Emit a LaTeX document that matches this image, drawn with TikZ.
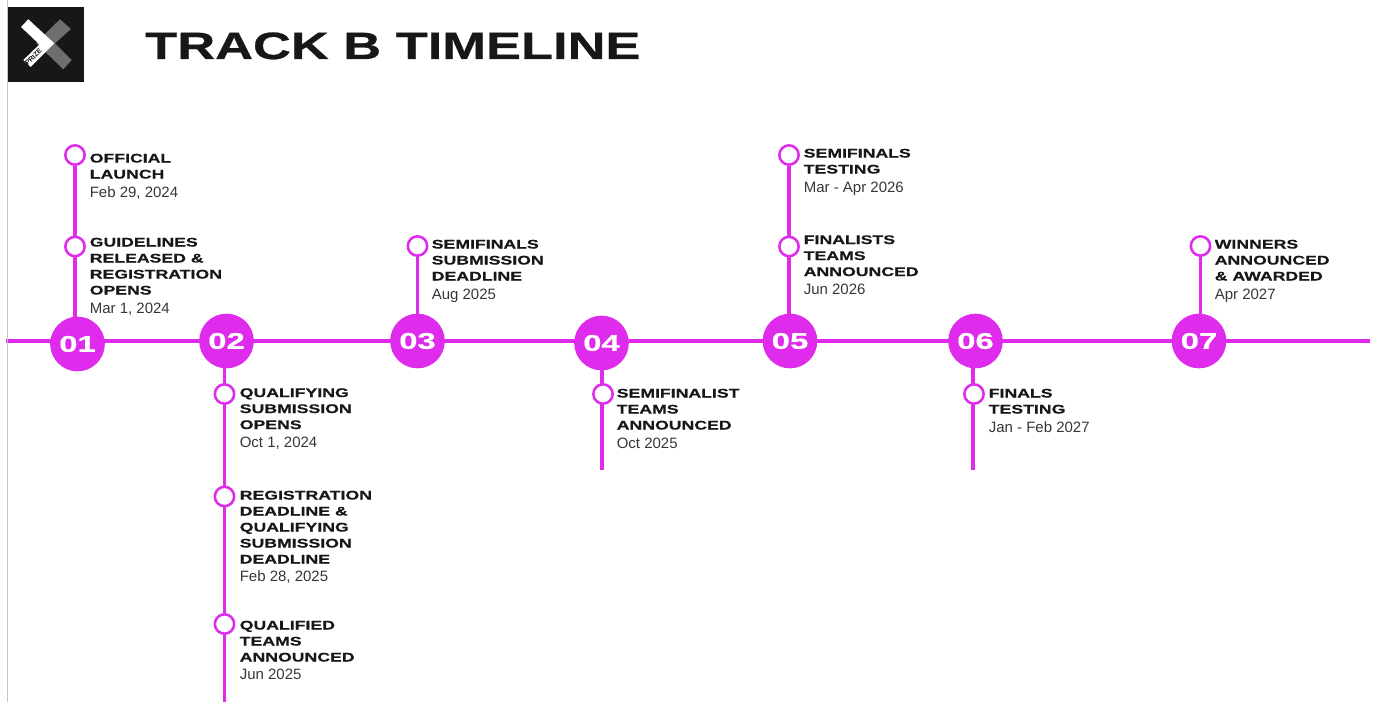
\documentclass[tikz,border=0pt]{standalone}
\usepackage{fontspec}
\usetikzlibrary{backgrounds}
\setmainfont{Liberation Sans}
\newfontfamily\widefont[FakeStretch=1.41,FakeBold=0.4]{Liberation Sans Bold}
\newfontfamily\titlefont[FakeStretch=1.38,FakeBold=0.7]{Liberation Sans Bold}
\newfontfamily\numfont[FakeStretch=1.45,FakeBold=0.6]{Liberation Sans Bold}
\definecolor{mag}{HTML}{DF2BEC}
\definecolor{ink}{HTML}{171717}
\definecolor{soft}{HTML}{363636}
\definecolor{edge}{HTML}{C4C8C8}
\definecolor{xgrey}{HTML}{6E6E6E}
\newcommand{\dt}[1]{{\fontspec{Liberation Sans}\fontsize{11.25pt}{12pt}\selectfont\color{soft}#1}}
\tikzset{
 x=0.75pt,y=-0.75pt,
 ring/.style={circle,draw=mag,line width=1.9pt,fill=white,minimum size=14.5pt,inner sep=0pt},
 hub/.style={circle,fill=mag,minimum size=41pt,inner sep=0pt,text=white,font=\numfont\fontsize{17pt}{17pt}\selectfont},
 lbl/.style={anchor=north west,align=left,inner sep=0pt,text=ink,font=\widefont\fontsize{9.4pt}{12pt}\selectfont},
 tl/.style={draw=mag,line width=3.1pt},
 stem/.style={draw=mag,line width=2.4pt},
}
\begin{document}
\begin{tikzpicture}
\useasboundingbox (0,0) rectangle (1374,702);
\coordinate (edgeT) at (7.5,0); \coordinate (edgeB) at (7.5,702);
\draw[edge,line width=0.9pt] (edgeT) -- (edgeB);
% logo
\fill[ink] (8,7) rectangle (84,82);
\fill[xgrey] (60,19.3) -- (71,29) -- (55,43.3) -- (71.7,60) -- (63.3,69.3) -- (43.3,50) -- (36,43) -- cycle;
\fill[white] (28.3,19.3) -- (54.3,43.3) -- (30.7,67) -- (23.3,60) -- (39.5,44.5) -- (21,27) -- cycle;
\node[rotate=45,font=\bfseries\fontsize{5.2pt}{5pt}\selectfont,text=ink,inner sep=0pt] (prz) at (33.5,57) {PRIZE};
\node[anchor=base west,inner sep=0pt,text=ink,font=\titlefont\fontsize{28.5pt}{31pt}\selectfont] (title) at (145,59) {TRACK B TIMELINE};
% hubs
\node[hub] (h1) at (77.5,344) {01};
\node[hub] (h2) at (226.5,341) {02};
\node[hub] (h3) at (417.5,341) {03};
\node[hub] (h4) at (601.5,343) {04};
\node[hub] (h5) at (790,341) {05};
\node[hub] (h6) at (975.5,341) {06};
\node[hub] (h7) at (1199,341) {07};
% rings
\node[ring] (a1) at (75,155) {};
\node[ring] (a2) at (75,246.5) {};
\node[ring] (b1) at (224.5,394) {};
\node[ring] (b2) at (224.5,496.5) {};
\node[ring] (b3) at (224.5,624) {};
\node[ring] (c1) at (417.5,246) {};
\node[ring] (d1) at (603,394) {};
\node[ring] (e1) at (789,155) {};
\node[ring] (e2) at (789,246.5) {};
\node[ring] (f1) at (974,394) {};
\node[ring] (g1) at (1200.5,246) {};
\coordinate (La) at (6,341); \coordinate (Lb) at (1370,341);
\coordinate (bEnd) at (224.5,702);
\coordinate (dEnd) at (602,470);
\coordinate (fEnd) at (973,470);
\begin{scope}[on background layer]
\draw[tl] (La) -- (Lb);
\draw[stem] (a1) -- (a2);
\draw[stem] (a2) -- (a2 |- h1);
\draw[stem] (b1 |- h2) -- (b1);
\draw[stem] (b1) -- (b2);
\draw[stem] (b2) -- (b3);
\draw[stem] (b3) -- (bEnd);
\draw[stem] (c1) -- (c1 |- h3);
\draw[stem] (dEnd |- h4) -- (dEnd);
\draw[stem] (e1) -- (e2);
\draw[stem] (e2) -- (e2 |- h5);
\draw[stem] (fEnd |- h6) -- (fEnd);
\draw[stem] (g1) -- (g1 |- h7);
\end{scope}
% labels
\node[lbl] (ta1) at (89.5,153.5) {OFFICIAL\\LAUNCH\\[2pt]\dt{Feb 29, 2024}};
\node[lbl] (ta2) at (89.5,237.5) {GUIDELINES\\RELEASED \&\\REGISTRATION\\OPENS\\[2pt]\dt{Mar 1, 2024}};
\node[lbl] (tb1) at (239.5,388) {QUALIFYING\\SUBMISSION\\OPENS\\[1.5pt]\dt{Oct 1, 2024}};
\node[lbl] (tb2) at (239.5,490.5) {REGISTRATION\\DEADLINE \&\\QUALIFYING\\SUBMISSION\\DEADLINE\\[1.5pt]\dt{Feb 28, 2025}};
\node[lbl] (tb3) at (239.5,620.5) {QUALIFIED\\TEAMS\\ANNOUNCED\\[1.5pt]\dt{Jun 2025}};
\node[lbl] (tc1) at (431.5,239.5) {SEMIFINALS\\SUBMISSION\\DEADLINE\\[2pt]\dt{Aug 2025}};
\node[lbl] (td1) at (616.5,388.5) {SEMIFINALIST\\TEAMS\\ANNOUNCED\\[2pt]\dt{Oct 2025}};
\node[lbl] (te1) at (803.5,148.5) {SEMIFINALS\\TESTING\\[2pt]\dt{Mar - Apr 2026}};
\node[lbl] (te2) at (803.5,235) {FINALISTS\\TEAMS\\ANNOUNCED\\[1.5pt]\dt{Jun 2026}};
\node[lbl] (tf1) at (988.5,388.5) {FINALS\\TESTING\\[2pt]\dt{Jan - Feb 2027}};
\node[lbl] (tg1) at (1214.5,239.5) {WINNERS\\ANNOUNCED\\\& AWARDED\\[2pt]\dt{Apr 2027}};
\end{tikzpicture}
\end{document}
